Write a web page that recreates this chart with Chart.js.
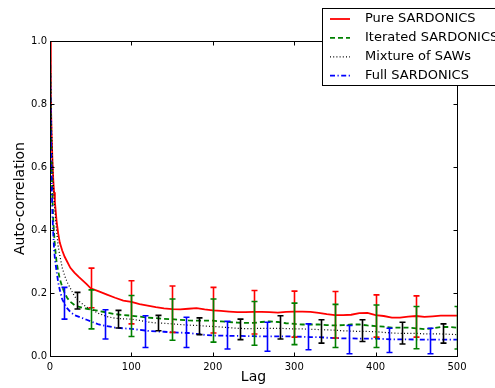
<!DOCTYPE html>
<html>
<head>
<meta charset="utf-8">
<script src="https://cdn.jsdelivr.net/npm/chart.js@4.4.1/dist/chart.umd.min.js"></script>
<style>
  html, body { margin: 0; padding: 0; background: #fff; }
  #wrap { width: 495px; height: 388px; position: relative; }
</style>
</head>
<body>
<div id="wrap"><canvas id="c" width="495" height="388"></canvas></div>
<script>
// ---- Data ----
const lags = [0,1,2,3,4,5,6,8,10,12,15,18,21,25,30,35,40,45,50,60,70,80,90,100,110,120,130,140,150,160,170,180,190,200,210,220,230,240,250,260,270,280,290,300,310,320,330,340,350,360,370,380,390,400,410,420,430,440,450,460,470,480,490,500];

const pureSardonics = [1.0,0.82,0.70,0.62,0.56,0.52,0.49,0.43,0.39,0.36,0.335,0.315,0.30,0.28,0.265,0.252,0.24,0.228,0.215,0.205,0.195,0.185,0.176,0.172,0.165,0.16,0.155,0.151,0.149,0.148,0.150,0.152,0.148,0.145,0.143,0.141,0.139,0.139,0.140,0.140,0.139,0.138,0.140,0.141,0.141,0.140,0.137,0.133,0.130,0.130,0.131,0.136,0.137,0.130,0.127,0.122,0.122,0.125,0.127,0.124,0.126,0.128,0.128,0.128];

const iteratedSardonics = [1.0,0.75,0.60,0.50,0.43,0.39,0.35,0.30,0.27,0.245,0.22,0.20,0.185,0.172,0.162,0.157,0.153,0.150,0.148,0.143,0.138,0.133,0.130,0.128,0.125,0.122,0.120,0.118,0.117,0.115,0.113,0.112,0.112,0.112,0.110,0.108,0.106,0.105,0.105,0.108,0.110,0.108,0.104,0.102,0.100,0.100,0.100,0.098,0.097,0.098,0.100,0.100,0.097,0.095,0.093,0.090,0.090,0.090,0.088,0.085,0.088,0.092,0.092,0.090];

const mixtureOfSaws = [1.0,0.85,0.72,0.63,0.55,0.50,0.46,0.40,0.35,0.32,0.28,0.255,0.235,0.215,0.19,0.175,0.165,0.155,0.148,0.135,0.125,0.120,0.118,0.117,0.113,0.108,0.105,0.104,0.102,0.100,0.098,0.097,0.095,0.094,0.092,0.090,0.088,0.087,0.087,0.088,0.088,0.088,0.087,0.086,0.086,0.085,0.084,0.083,0.082,0.080,0.079,0.078,0.078,0.077,0.075,0.073,0.072,0.072,0.072,0.070,0.070,0.070,0.069,0.068];

const fullSardonics = [1.0,0.70,0.55,0.45,0.39,0.34,0.31,0.27,0.235,0.21,0.18,0.165,0.152,0.14,0.13,0.125,0.12,0.115,0.110,0.100,0.095,0.090,0.088,0.086,0.083,0.080,0.078,0.077,0.075,0.074,0.073,0.070,0.067,0.065,0.065,0.064,0.064,0.063,0.063,0.062,0.062,0.062,0.062,0.062,0.061,0.060,0.060,0.058,0.057,0.056,0.056,0.055,0.055,0.055,0.054,0.053,0.053,0.053,0.052,0.052,0.052,0.052,0.052,0.052];

// Error bars: lag positions, lower and upper ends
const errLagsPure = [50,100,150,200,250,300,350,400,450];
const errLowPure  = [0.153,0.102,0.075,0.073,0.070,0.060,0.057,0.060,0.060];
const errHighPure = [0.279,0.239,0.222,0.218,0.208,0.206,0.205,0.194,0.191];

const errLagsIter = [50,100,150,200,250,300,350,400,450,500];
const errLowIter  = [0.086,0.062,0.050,0.044,0.034,0.036,0.027,0.027,0.023,0.022];
const errHighIter = [0.210,0.192,0.181,0.181,0.173,0.168,0.164,0.162,0.157,0.157];

const errLagsMix = [33,83,133,183,233,283,333,383,433,483];
const errLowMix  = [0.149,0.089,0.080,0.068,0.052,0.054,0.041,0.046,0.038,0.041];
const errHighMix = [0.202,0.145,0.129,0.121,0.117,0.128,0.115,0.115,0.107,0.102];

const errLagsFull = [17,67,117,167,217,267,317,367,417,467];
const errLowFull  = [0.117,0.054,0.027,0.027,0.022,0.015,0.020,0.007,0.011,0.007];
const errHighFull = [0.218,0.147,0.128,0.123,0.110,0.107,0.102,0.097,0.088,0.088];

const xTicks = [0,100,200,300,400,500];
const yTicks = [0.0,0.2,0.4,0.6,0.8,1.0];

const seriesNames = ['Pure SARDONICS','Iterated SARDONICS','Mixture of SAWs','Full SARDONICS'];

// ---- Styles ----
const FONT = "'DejaVu Sans', 'Liberation Sans', sans-serif";
const styles = [
  { color: '#ff0000', width: 1.8, dash: [] },
  { color: '#008000', width: 1.8, dash: [5, 3] },
  { color: '#000000', width: 1.2, dash: [1, 2.2] },
  { color: '#0000ff', width: 1.8, dash: [5, 2.5, 1.2, 2.5] }
];
const seriesValues = [pureSardonics, iteratedSardonics, mixtureOfSaws, fullSardonics];
const errSets = [
  { lags: errLagsPure, low: errLowPure, high: errHighPure },
  { lags: errLagsIter, low: errLowIter, high: errHighIter },
  { lags: errLagsMix,  low: errLowMix,  high: errHighMix },
  { lags: errLagsFull, low: errLowFull, high: errHighFull }
];

const datasets = seriesNames.map((name, i) => ({
  label: name,
  data: lags.map((l, k) => ({ x: l, y: seriesValues[i][k] })),
  borderColor: styles[i].color,
  backgroundColor: styles[i].color,
  borderWidth: styles[i].width,
  borderDash: styles[i].dash,
  pointRadius: 0,
  tension: 0,
  fill: false,
  order: 4 - i
}));

const decorPlugin = {
  id: 'decor',
  afterDatasetsDraw(chart) {
    const ctx = chart.ctx;
    const xs = chart.scales.x, ys = chart.scales.y;
    const a = chart.chartArea;
    // error bars
    ctx.save();
    ctx.beginPath();
    ctx.rect(a.left, a.top - 1, a.right - a.left, a.bottom - a.top + 2);
    ctx.clip();
    errSets.forEach((e, i) => {
      ctx.strokeStyle = styles[i].color;
      ctx.lineWidth = 1.6;
      ctx.setLineDash([]);
      e.lags.forEach((l, k) => {
        const px = Math.round(xs.getPixelForValue(l)) + 0.5;
        const y1 = ys.getPixelForValue(e.low[k]);
        const y2 = ys.getPixelForValue(e.high[k]);
        ctx.beginPath();
        ctx.moveTo(px, y1); ctx.lineTo(px, y2);
        ctx.moveTo(px - 3, y1); ctx.lineTo(px + 3, y1);
        ctx.moveTo(px - 3, y2); ctx.lineTo(px + 3, y2);
        ctx.stroke();
      });
    });
    ctx.restore();
    // frame and inward ticks
    ctx.save();
    ctx.strokeStyle = '#000';
    ctx.lineWidth = 1;
    ctx.setLineDash([]);
    const L = Math.round(a.left) + 0.5, R = Math.round(a.right) + 0.5;
    const T = Math.round(a.top) + 0.5, B = Math.round(a.bottom) + 0.5;
    ctx.strokeRect(L, T, R - L, B - T);
    ctx.beginPath();
    xTicks.forEach(v => {
      const px = Math.round(xs.getPixelForValue(v)) + 0.5;
      ctx.moveTo(px, B); ctx.lineTo(px, B - 4);
      ctx.moveTo(px, T); ctx.lineTo(px, T + 4);
    });
    yTicks.forEach(v => {
      const py = Math.round(ys.getPixelForValue(v)) + 0.5;
      ctx.moveTo(L, py); ctx.lineTo(L + 4, py);
      ctx.moveTo(R, py); ctx.lineTo(R - 4, py);
    });
    ctx.stroke();
    ctx.restore();
  },
  afterDraw(chart) {
    // legend box (top right, partly outside the plot)
    const ctx = chart.ctx;
    ctx.save();
    const bx = 322.5, by = 8.5, bw = 200, bh = 77;
    ctx.fillStyle = '#fff';
    ctx.fillRect(bx, by, bw, bh);
    ctx.strokeStyle = '#000';
    ctx.lineWidth = 1;
    ctx.setLineDash([]);
    ctx.strokeRect(bx, by, bw, bh);
    ctx.font = '13px ' + FONT;
    ctx.textBaseline = 'middle';
    ctx.fillStyle = '#000';
    seriesNames.forEach((name, i) => {
      const y = 19 + i * 18.9;
      ctx.strokeStyle = styles[i].color;
      ctx.lineWidth = styles[i].width;
      ctx.setLineDash(styles[i].dash);
      ctx.beginPath();
      ctx.moveTo(330, y); ctx.lineTo(350, y);
      ctx.stroke();
      ctx.setLineDash([]);
      ctx.fillText(name, 365, y);
    });
    ctx.restore();
  }
};

new Chart(document.getElementById('c'), {
  type: 'line',
  data: { datasets },
  options: {
    responsive: false,
    animation: false,
    devicePixelRatio: 1,
    layout: { padding: { left: 0, top: 41, right: 38, bottom: 0 } },
    plugins: { legend: { display: false }, tooltip: { enabled: false } },
    scales: {
      x: {
        type: 'linear', min: 0, max: 500,
        afterFit(s) { s.height = 32; },
        afterBuildTicks(s) { s.ticks = xTicks.map(v => ({ value: v })); },
        grid: { display: false, drawTicks: false },
        border: { display: false },
        ticks: { color: '#000', font: { family: FONT, size: 10 }, padding: 5, maxRotation: 0, callback: v => String(v) },
        title: { display: true, text: 'Lag', color: '#000', font: { family: FONT, size: 14 }, padding: { top: 0, bottom: 2 } }
      },
      y: {
        type: 'linear', min: 0, max: 1,
        afterFit(s) { s.width = 50; },
        afterBuildTicks(s) { s.ticks = yTicks.map(v => ({ value: v })); },
        grid: { display: false, drawTicks: false },
        border: { display: false },
        ticks: { color: '#000', font: { family: FONT, size: 10 }, padding: 3, callback: v => Number(v).toFixed(1) },
        title: { display: true, text: 'Auto-correlation', color: '#000', font: { family: FONT, size: 14 }, padding: { top: 12, bottom: 0 } }
      }
    }
  },
  plugins: [decorPlugin]
});
</script>
</body>
</html>
